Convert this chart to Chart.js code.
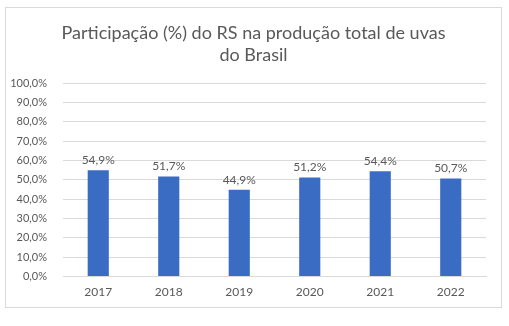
<!DOCTYPE html>
<html>
<head>
<meta charset="utf-8">
<script src="https://cdn.jsdelivr.net/npm/chart.js@4"></script>
<style>
  html, body { margin: 0; padding: 0; background: #fff; }
  #box {
    position: absolute; left: 5px; top: 7px;
    width: 495px; height: 299px;
    border: 1px solid #d9d9d9;
  }
</style>
</head>
<body>
<div id="box"><canvas id="chart" width="495" height="299"></canvas></div>
<script>
// chart data
const years = ["2017", "2018", "2019", "2020", "2021", "2022"];
const shares = [54.9, 51.7, 44.9, 51.2, 54.4, 50.7];
const titleLines = ["Participação (%) do RS na produção total de uvas", "do Brasil"];

const fontFamily = "Lato, 'Open Sans', sans-serif";
const textColor = "#595959";

function fmtPct(v) {
  return v.toFixed(1).replace(".", ",") + "%";
}

// title centred on the whole box, not on the plot
const boxTitle = {
  id: "boxTitle",
  afterDraw(chart) {
    const ctx = chart.ctx;
    ctx.save();
    ctx.font = "18px " + fontFamily;
    ctx.fillStyle = textColor;
    ctx.textAlign = "center";
    ctx.textBaseline = "middle";
    titleLines.forEach((line, i) => {
      ctx.fillText(line, chart.width / 2, 25 + i * 22);
    });
    ctx.restore();
  },
};

// draws value labels above each bar
const barLabels = {
  id: "barLabels",
  afterDatasetsDraw(chart) {
    const ctx = chart.ctx;
    const meta = chart.getDatasetMeta(0);
    ctx.save();
    ctx.font = "12px " + fontFamily;
    ctx.fillStyle = textColor;
    ctx.textAlign = "center";
    ctx.textBaseline = "bottom";
    meta.data.forEach((bar, i) => {
      ctx.fillText(fmtPct(shares[i]), bar.x, bar.y - 4);
    });
    ctx.restore();
  },
};

const ctx = document.getElementById("chart").getContext("2d");
new Chart(ctx, {
  type: "bar",
  data: {
    labels: years,
    datasets: [
      {
        data: shares,
        backgroundColor: "#3a6cc4",
        barPercentage: 0.3,
        categoryPercentage: 1,
      },
    ],
  },
  options: {
    responsive: false,
    animation: false,
    layout: { padding: { left: 0, right: 15, top: 75, bottom: 8 } },
    plugins: {
      legend: { display: false },
      tooltip: { enabled: false },
      title: { display: false },
    },
    scales: {
      x: {
        grid: { display: false },
        border: { color: "#d9d9d9" },
        ticks: { color: textColor, font: { family: fontFamily, size: 12 }, padding: 0 },
      },
      y: {
        min: 0,
        max: 100,
        afterFit(scale) { scale.width = 57; },
        grid: { color: "#d9d9d9", drawTicks: false },
        border: { display: false },
        ticks: {
          stepSize: 10,
          color: textColor,
          padding: 16,
          font: { family: fontFamily, size: 11 },
          callback: (v) => fmtPct(v),
        },
      },
    },
  },
  plugins: [barLabels, boxTitle],
});
</script>
</body>
</html>
